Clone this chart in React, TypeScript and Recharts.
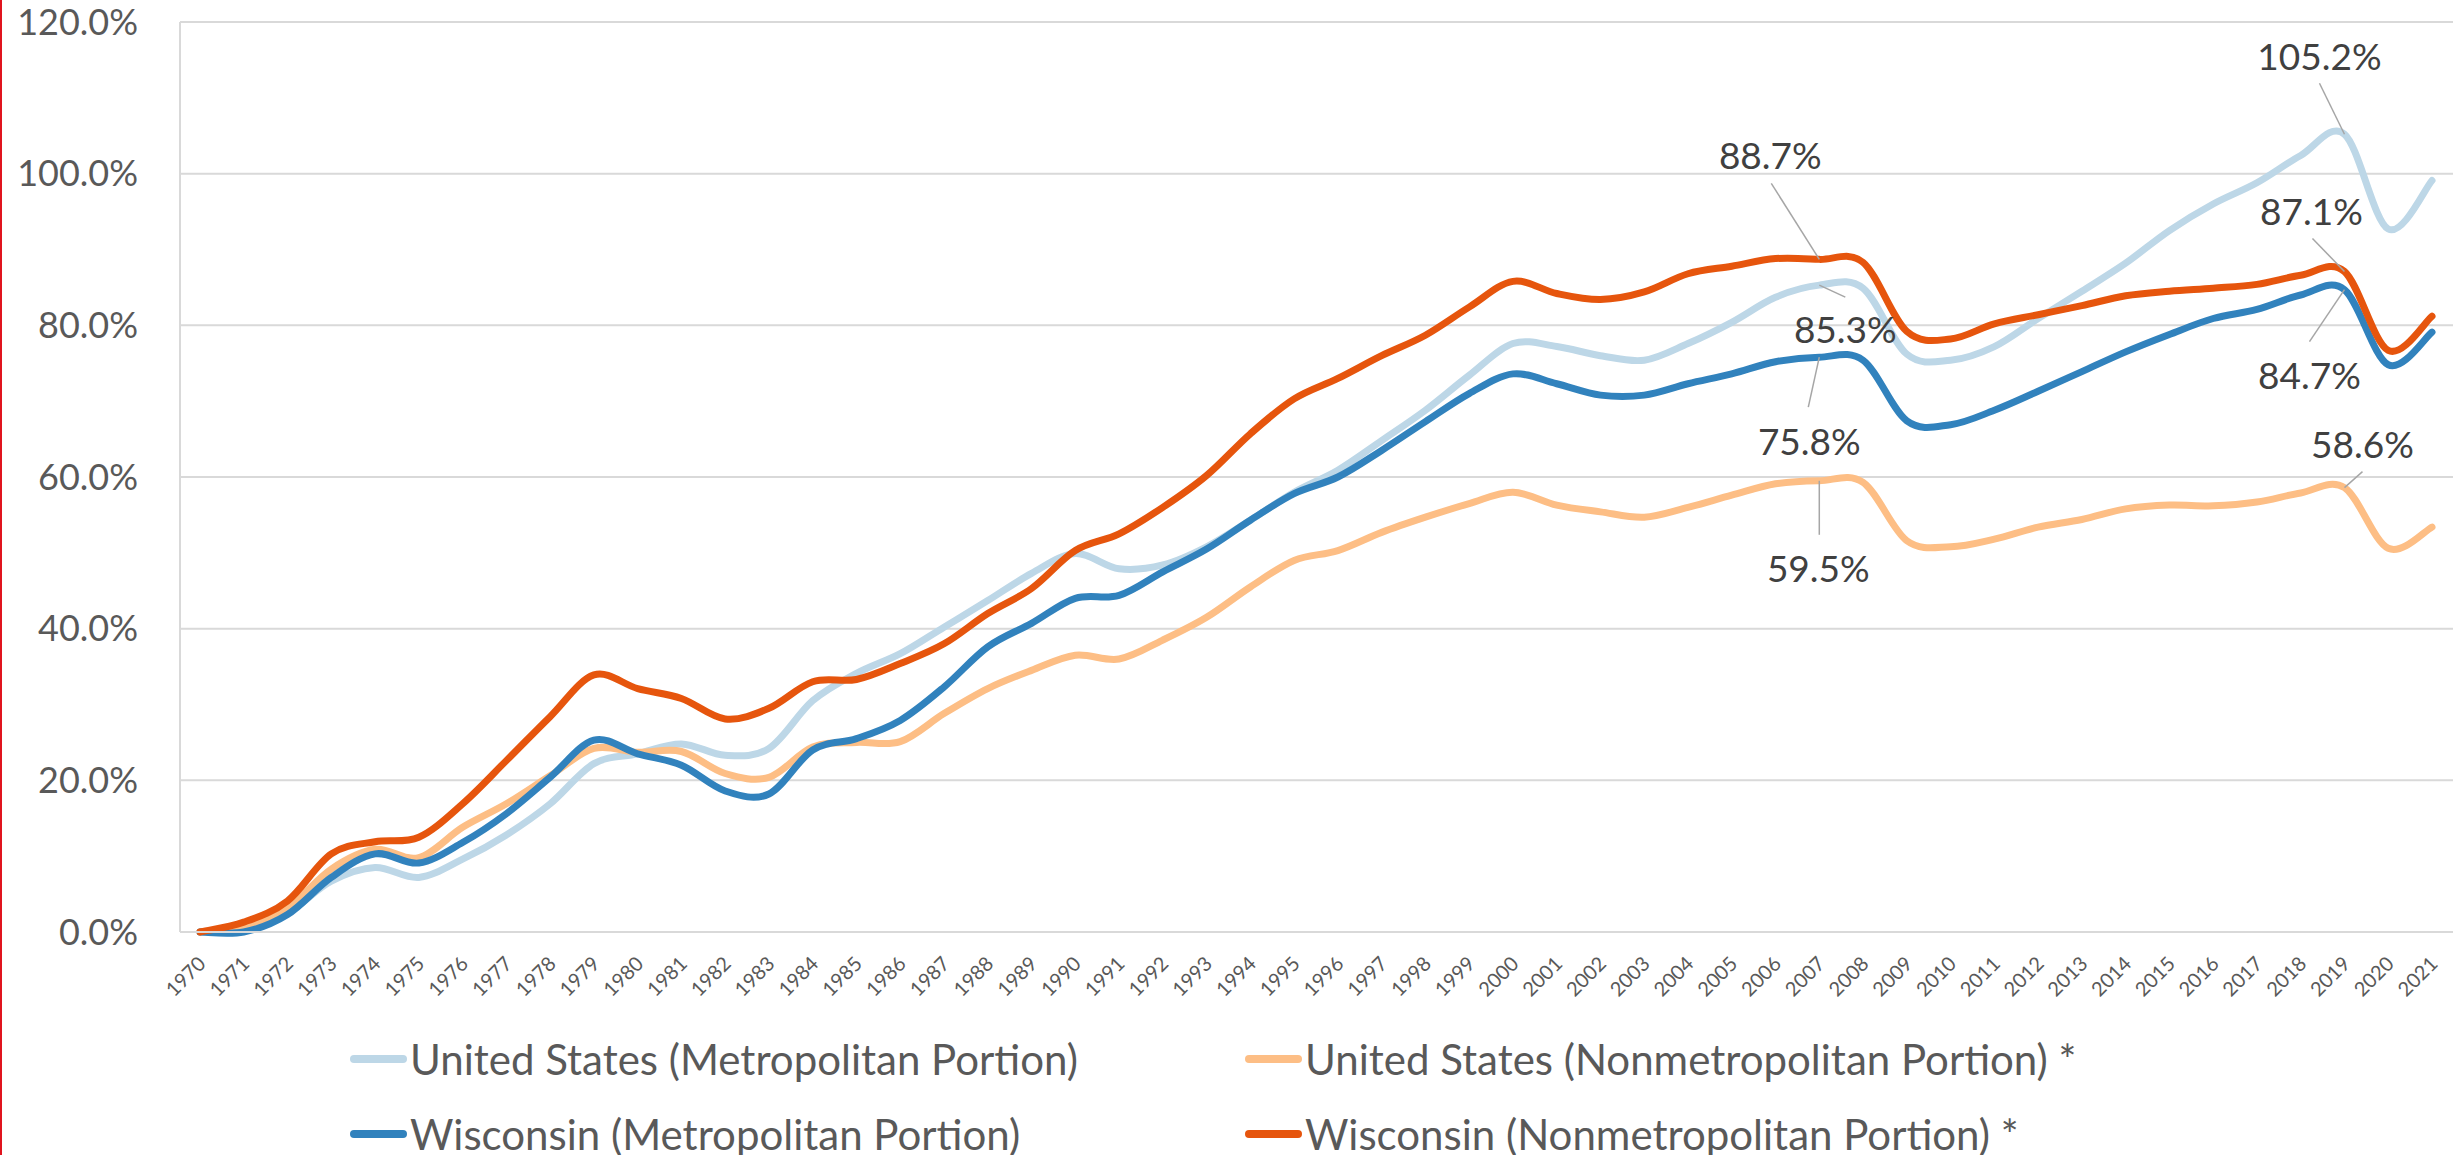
import React from 'react'
import { LineChart, Line, XAxis, YAxis, CartesianGrid, LabelList } from 'recharts'

const years = [
  1970, 1971, 1972, 1973, 1974, 1975, 1976, 1977, 1978, 1979,
  1980, 1981, 1982, 1983, 1984, 1985, 1986, 1987, 1988, 1989,
  1990, 1991, 1992, 1993, 1994, 1995, 1996, 1997, 1998, 1999,
  2000, 2001, 2002, 2003, 2004, 2005, 2006, 2007, 2008, 2009,
  2010, 2011, 2012, 2013, 2014, 2015, 2016, 2017, 2018, 2019,
  2020, 2021
]

// percent growth since 1970
const usMetro = [
  0, 0.1, 2.5, 6.7, 8.5, 7.2, 9.6, 12.8, 16.9, 22.2,
  23.5, 24.8, 23.3, 24.2, 30.5, 34.1, 36.7, 40.2, 43.7, 47.3,
  49.9, 47.9, 48.4, 50.8, 54.3, 58.0, 60.9, 64.8, 68.8, 73.4,
  77.6, 77.2, 76.0, 75.4, 77.6, 80.4, 83.7, 85.3, 84.9, 76.2,
  75.4, 77.2, 80.9, 84.5, 88.2, 92.5, 96.0, 98.8, 102.4, 105.2,
  92.7, 99.1
]

const usNonmetro = [
  0, 0.8, 3.2, 8.3, 10.9, 9.8, 13.8, 16.9, 20.6, 24.2,
  23.7, 23.8, 20.9, 20.4, 24.4, 25.0, 25.1, 28.8, 32.1, 34.5,
  36.5, 36.0, 38.5, 41.5, 45.5, 49.0, 50.3, 52.7, 54.7, 56.5,
  58.0, 56.3, 55.4, 54.7, 56.0, 57.6, 59.1, 59.5, 59.3, 51.6,
  50.8, 51.8, 53.4, 54.4, 55.8, 56.3, 56.2, 56.7, 57.9, 58.6,
  50.6, 53.4
]

const wiMetro = [
  0, 0, 2.3, 7.2, 10.3, 9.1, 11.8, 15.6, 20.4, 25.3,
  23.5, 22.0, 18.6, 18.2, 24.0, 25.5, 27.9, 32.3, 37.6, 40.7,
  44.0, 44.4, 47.5, 50.5, 54.3, 57.8, 60.0, 63.5, 67.3, 71.0,
  73.6, 72.3, 70.8, 70.8, 72.3, 73.6, 75.2, 75.8, 75.4, 67.4,
  66.9, 68.8, 71.3, 73.9, 76.5, 78.8, 80.9, 82.1, 84.0, 84.7,
  74.8, 79.1
]

const wiNonmetro = [
  0, 1.3, 4.1, 10.3, 11.9, 12.5, 16.9, 22.6, 28.4, 33.9,
  32.1, 30.8, 28.1, 29.5, 33.0, 33.3, 35.4, 38.0, 42.0, 45.3,
  50.3, 52.5, 56.0, 60.2, 65.7, 70.3, 73.0, 76.0, 78.7, 82.4,
  85.8, 84.2, 83.4, 84.4, 86.8, 87.8, 88.8, 88.7, 88.3, 79.2,
  78.2, 80.2, 81.4, 82.6, 83.9, 84.5, 84.9, 85.4, 86.6, 87.1,
  76.7, 81.2
]

const yTicks = [0, 20, 40, 60, 80, 100, 120]

const data = years.map((year, i) => ({
  year,
  usMetro: usMetro[i],
  usNonmetro: usNonmetro[i],
  wiMetro: wiMetro[i],
  wiNonmetro: wiNonmetro[i]
}))

const SERIES = [
  { key: 'usMetro', name: 'United States (Metropolitan Portion)', color: '#BDD7E7' },
  { key: 'usNonmetro', name: 'United States (Nonmetropolitan Portion) *', color: '#FDBE85' },
  { key: 'wiMetro', name: 'Wisconsin (Metropolitan Portion)', color: '#3182BD' },
  { key: 'wiNonmetro', name: 'Wisconsin (Nonmetropolitan Portion) *', color: '#E6550D' }
]

// callout label offsets (text centre dx/dy, leader end lx/ly) relative to the point
const CALLOUTS: Record<string, { year: number; dx: number; dy: number; lx: number; ly: number }[]> = {
  usMetro: [
    { year: 2007, dx: 26, dy: 43, lx: 26, ly: 12 },
    { year: 2019, dx: -25, dy: -79, lx: -25, ly: -51 }
  ],
  usNonmetro: [
    { year: 2007, dx: -1, dy: 87, lx: 0, ly: 54 },
    { year: 2019, dx: 18, dy: -44, lx: 18, ly: -16 }
  ],
  wiMetro: [
    { year: 2007, dx: -10, dy: 83, lx: -11, ly: 50 },
    { year: 2019, dx: -35, dy: 85, lx: -35, ly: 52 }
  ],
  wiNonmetro: [
    { year: 2007, dx: -49, dy: -105, lx: -48, ly: -76 },
    { year: 2019, dx: -33, dy: -61, lx: -32, ly: -33 }
  ]
}

const FONT = 'Lato, "Open Sans", sans-serif'

// Excel-like smoothed line (Catmull-Rom through every point)
const excelSmooth = (context: any) => {
  let pts: number[][] = []
  return {
    areaStart() {},
    areaEnd() {},
    lineStart() {
      pts = []
    },
    point(x: number, y: number) {
      pts.push([+x, +y])
    },
    lineEnd() {
      if (!pts.length) return
      context.moveTo(pts[0][0], pts[0][1])
      for (let i = 0; i < pts.length - 1; i++) {
        const p0 = pts[i - 1] || pts[i]
        const p1 = pts[i]
        const p2 = pts[i + 1]
        const p3 = pts[i + 2] || p2
        context.bezierCurveTo(
          p1[0] + (p2[0] - p0[0]) / 6,
          p1[1] + (p2[1] - p0[1]) / 6,
          p2[0] - (p3[0] - p1[0]) / 6,
          p2[1] - (p3[1] - p1[1]) / 6,
          p2[0],
          p2[1]
        )
      }
    }
  }
}

const YearTick = (props: any) => {
  const { x, y, payload } = props
  const ax = x + 7
  const ay = y + 33
  return (
    <text
      x={ax}
      y={ay}
      transform={`rotate(-45 ${ax} ${ay})`}
      textAnchor='end'
      fill='#595959'
      fontSize={20}
      fontFamily={FONT}
    >
      {payload.value}
    </text>
  )
}

const makeCallout = (key: string) => (props: any) => {
  const { x, y, value, index } = props
  const c = CALLOUTS[key].find((item) => item.year === years[index])
  if (!c || x == null || y == null) return null
  return (
    <g>
      <line x1={x} y1={y} x2={x + c.lx} y2={y + c.ly} stroke='#A6A6A6' strokeWidth={1.5} />
      <text
        x={x + c.dx}
        y={y + c.dy}
        textAnchor='middle'
        dominantBaseline='central'
        fill='#404040'
        fontSize={37}
        fontFamily={FONT}
      >
        {Number(value).toFixed(1) + '%'}
      </text>
    </g>
  )
}

export default function App() {
  return (
    <div style={{ position: 'absolute', left: 0, top: 0, width: 2453, height: 1155, background: '#fff' }}>
      <div style={{ position: 'absolute', left: 0, top: 0, width: 2, height: 1155, background: '#E0141E' }} />
      <LineChart width={2453} height={1155} data={data} margin={{ top: 22, right: 0, bottom: 0, left: 0 }}>
        <CartesianGrid vertical={false} stroke='#D9D9D9' strokeWidth={2} />
        <XAxis
          dataKey='year'
          interval={0}
          height={223}
          padding={{ left: 20, right: 21 }}
          tickLine={false}
          tickSize={0}
          tickMargin={0}
          axisLine={{ stroke: '#D9D9D9', strokeWidth: 2 }}
          tick={<YearTick />}
        />
        <YAxis
          width={180}
          domain={[0, 120]}
          ticks={yTicks}
          interval={0}
          tickLine={false}
          tickSize={0}
          tickMargin={42}
          axisLine={{ stroke: '#D9D9D9', strokeWidth: 2 }}
          tickFormatter={(v: number) => v.toFixed(1) + '%'}
          tick={{ fill: '#595959', fontSize: 36, fontFamily: FONT }}
        />
        {SERIES.map((s) => (
          <Line
            key={s.key}
            dataKey={s.key}
            name={s.name}
            type={excelSmooth as any}
            stroke={s.color}
            strokeWidth={7}
            strokeLinecap='round'
            strokeLinejoin='round'
            dot={false}
            activeDot={false}
            isAnimationActive={false}
          >
            <LabelList dataKey={s.key} content={makeCallout(s.key)} />
          </Line>
        ))}
      </LineChart>
      <div
        style={{
          position: 'absolute',
          left: 350,
          top: 1021,
          display: 'grid',
          gridTemplateColumns: '895px auto',
          gridAutoRows: '75px',
          fontFamily: FONT,
          fontSize: 42,
          color: '#595959'
        }}
      >
        {SERIES.map((s) => (
          <div key={s.key} style={{ display: 'flex', alignItems: 'center', whiteSpace: 'nowrap' }}>
            <span
              style={{
                display: 'inline-block',
                width: 57,
                height: 8,
                borderRadius: 4,
                background: s.color,
                marginRight: 3
              }}
            />
            <span>{s.name}</span>
          </div>
        ))}
      </div>
    </div>
  )
}
